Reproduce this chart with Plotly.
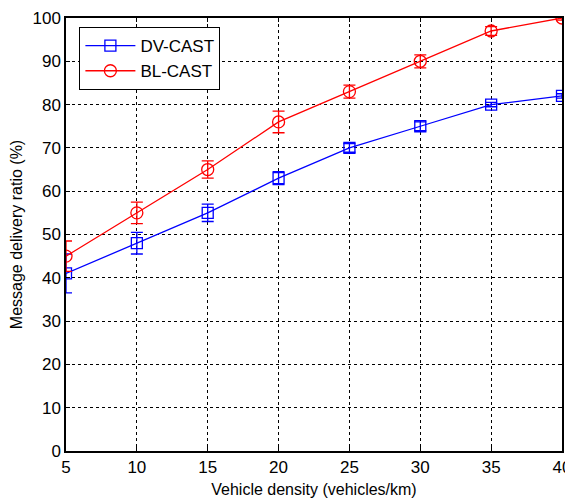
import plotly.graph_objects as go

density = [5, 10, 15, 20, 25, 30, 35, 40]
dv_cast = [41, 48, 55, 63, 70, 75, 80, 82]
dv_err = [4.5, 2.5, 2, 1.5, 1, 1, 0.5, 0.5]
bl_cast = [45, 55, 65, 76, 83, 90, 97, 100]
bl_err = [3.5, 2.5, 2, 2.5, 1.5, 1.5, 1, 0.5]
x_ticks = [5, 10, 15, 20, 25, 30, 35, 40]
y_ticks = [0, 10, 20, 30, 40, 50, 60, 70, 80, 90, 100]

FONT = "Liberation Sans, Arial"

fig = go.Figure()
fig.add_trace(go.Scatter(
    x=density, y=dv_cast, name="DV-CAST", mode="lines+markers",
    line=dict(color="#0000ff", width=1.3),
    marker=dict(symbol="square-open", size=11, color="#0000ff", line=dict(width=1.3)),
    error_y=dict(type="data", array=dv_err, color="#0000ff", thickness=1.3, width=6),
))
fig.add_trace(go.Scatter(
    x=density, y=bl_cast, name="BL-CAST", mode="lines+markers",
    line=dict(color="#ff0000", width=1.3),
    marker=dict(symbol="circle-open", size=12, color="#ff0000", line=dict(width=1.3)),
    error_y=dict(type="data", array=bl_err, color="#ff0000", thickness=1.3, width=6),
))

axis_common = dict(
    showline=True, linecolor="black", linewidth=1.5, mirror="ticks",
    ticks="inside", ticklen=4, tickcolor="black",
    showgrid=True, gridcolor="black", griddash="dot", gridwidth=1,
    zeroline=False, automargin=False,
    tickfont=dict(family=FONT, size=17, color="black"),
)

fig.update_xaxes(
    range=[5, 40], tickvals=x_ticks,
    title=dict(text="Vehicle density (vehicles/km)", font=dict(family=FONT, size=16, color="black"), standoff=8),
    **axis_common,
)
fig.update_yaxes(
    range=[0, 100], tickvals=y_ticks,
    title=dict(text="Message delivery ratio (%)", font=dict(family=FONT, size=16, color="black"), standoff=6),
    **axis_common,
)

# page body has an 8px margin, so the figure is sized to end at the window edge
fig.update_layout(
    width=565, height=495,
    margin=dict(l=58, r=11, t=10, b=52),
    plot_bgcolor="white", paper_bgcolor="white",
    showlegend=True,
    legend=dict(
        x=0.027, y=0.979, xanchor="left", yanchor="top",
        bordercolor="black", borderwidth=1, bgcolor="white",
        font=dict(family=FONT, size=17, color="black"),
        itemwidth=50, tracegroupgap=0,
    ),
)

fig.write_html("out.html")
